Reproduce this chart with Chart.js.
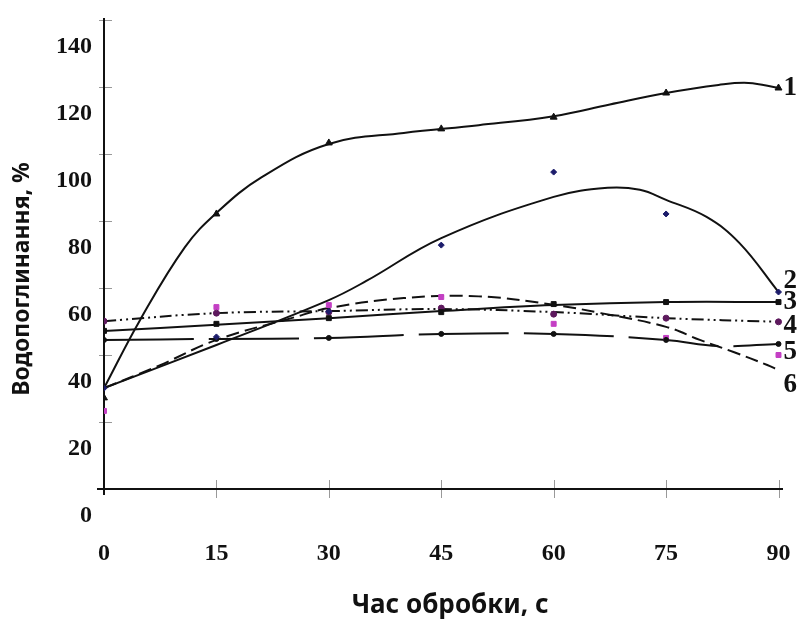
<!DOCTYPE html>
<html>
<head>
<meta charset="utf-8">
<script src="https://cdn.jsdelivr.net/npm/chart.js@4/dist/chart.umd.min.js"></script>
<style>
  html, body { margin: 0; padding: 0; background: #fff; }
</style>
</head>
<body>
<canvas id="chart" width="799" height="626"></canvas>
<script>
// tick values
const xTicks = [0, 15, 30, 45, 60, 75, 90];
const yTicks = [0, 20, 40, 60, 80, 100, 120, 140];

// measured points (markers), one value per time in xTicks
const times = [0, 15, 30, 45, 60, 75, 90];
const marks1 = [27.2, 82.1, 103.3, 107.5, 111.0, 118.2, 119.7];
const marks2 = [30.1, 45.4, 53.0, 72.8, 94.6, 82.1, 58.8];
const marks3 = [47.2, 49.3, 51.0, 52.8, 55.2, 55.8, 55.8];
const marks4 = [50.1, 52.5, 52.8, 54.0, 52.2, 51.0, 49.9];
const marks5 = [44.5, 44.8, 45.1, 46.3, 46.3, 44.5, 43.3];
const marks6 = [23.3, 54.3, 54.9, 57.3, 49.3, 45.1, 40.0];

// trend curves
const fit1X = [0, 4.8, 10.8, 15, 21, 30, 40, 50, 60, 67.5, 75, 82, 86, 90];
const fit1Y = [30.1, 50.4, 72.2, 82.4, 93.0, 103.0, 106.3, 108.6, 111.3, 114.8, 118.2, 120.6, 121.2, 119.7];
const fit2X = [0, 15, 30, 35, 45, 60, 67.2, 71.5, 75, 80.4, 84.8, 90];
const fit2Y = [30.1, 43.0, 56.4, 62.1, 74.9, 87.2, 89.9, 89.3, 86.3, 81.2, 73.4, 58.8];
const fit3X = [0, 15, 30, 45, 60, 75, 90];
const fit3Y = [47.2, 49.0, 51.0, 53.1, 54.9, 55.8, 55.8];
const fit4X = [0, 15, 30, 45, 60, 75, 90];
const fit4Y = [50.1, 52.5, 53.1, 53.7, 52.8, 51.0, 49.9];
const fit5X = [0, 15, 30, 45, 60, 75, 82, 90];
const fit5Y = [44.5, 44.8, 45.1, 46.3, 46.3, 44.5, 42.7, 43.3];
const fit6X = [0, 7.5, 15, 25, 30, 40, 50, 60, 66.3, 75, 79.5, 84, 88.5, 90];
const fit6Y = [30.1, 37.0, 44.5, 51.0, 54.0, 57.0, 57.5, 55.0, 52.5, 48.4, 44.5, 40.9, 37.0, 35.5];

// curve numbers at the right end
const curveNames = ['1', '2', '3', '4', '5', '6'];
const curveNameY = [119.7, 62.2, 55.7, 48.5, 40.9, 31.0];

const toPts = (xs, ys) => xs.map((x, i) => ({ x: x, y: ys[i] }));

function fitLine(xs, ys, dash) {
    return {
        data: toPts(xs, ys),
        showLine: true,
        borderColor: '#111',
        borderWidth: 2,
        borderDash: dash,
        pointRadius: 0,
        tension: 0.4,
        order: 2
    };
}

function markSet(ys, style, color, radius) {
    return {
        data: toPts(times, ys),
        showLine: false,
        pointStyle: style,
        pointRadius: radius,
        pointBackgroundColor: color,
        pointBorderColor: color,
        pointBorderWidth: 1,
        order: 1
    };
}

const datasets = [
    fitLine(fit1X, fit1Y, []),
    fitLine(fit2X, fit2Y, []),
    fitLine(fit3X, fit3Y, []),
    fitLine(fit4X, fit4Y, [12, 4, 2, 4, 2, 4]),
    fitLine(fit5X, fit5Y, [90, 15]),
    fitLine(fit6X, fit6Y, [13, 6]),
    markSet(marks1, 'triangle', '#111', 4),
    markSet(marks2, 'rectRot', '#1c1c6b', 3),
    markSet(marks3, 'rect', '#111', 3.5),
    markSet(marks4, 'circle', '#5e1a5e', 3),
    markSet(marks5, 'circle', '#111', 2.5),
    markSet(marks6, 'rect', '#c43fc4', 3.5)
];

// axes lines, tick marks, titles and curve numbers
const decor = {
    id: 'decor',
    beforeDatasetsDraw(chart) {
        const { ctx, chartArea: a, scales: { x, y } } = chart;
        ctx.save();
        ctx.strokeStyle = '#999';
        ctx.lineWidth = 1;
        yTicks.slice(1).forEach(v => {
            const py = Math.round(y.getPixelForValue(v)) + 0.5;
            ctx.beginPath(); ctx.moveTo(a.left - 5, py); ctx.lineTo(a.left + 8, py); ctx.stroke();
        });
        xTicks.slice(1).forEach(v => {
            const px = Math.round(x.getPixelForValue(v)) + 0.5;
            ctx.beginPath(); ctx.moveTo(px, a.bottom - 9); ctx.lineTo(px, a.bottom + 9); ctx.stroke();
        });
        ctx.strokeStyle = '#111';
        ctx.lineWidth = 2;
        ctx.beginPath();
        ctx.moveTo(a.left, a.top - 2); ctx.lineTo(a.left, a.bottom + 6);
        ctx.moveTo(a.left - 7, a.bottom); ctx.lineTo(a.right, a.bottom);
        ctx.stroke();
        ctx.restore();
    },
    afterDraw(chart) {
        const { ctx, scales: { x, y } } = chart;
        ctx.save();
        ctx.fillStyle = '#111';
        ctx.font = 'bold 27px "Liberation Serif"';
        ctx.textAlign = 'left';
        ctx.textBaseline = 'middle';
        curveNames.forEach((n, i) => {
            ctx.fillText(n, x.getPixelForValue(90) + 5, y.getPixelForValue(curveNameY[i]));
        });

        ctx.font = 'bold 26px "Noto Sans"';
        ctx.textAlign = 'center';
        ctx.fillText('Час обробки, с', 450, 606);

        ctx.translate(22, 279);
        ctx.rotate(-Math.PI / 2);
        ctx.font = 'bold 23px "Noto Sans"';
        ctx.fillText('Водопоглинання, %', 0, 0);
        ctx.restore();
    }
};

const tickFont = { family: 'Liberation Serif', size: 24, weight: 'bold' };

new Chart(document.getElementById('chart').getContext('2d'), {
    type: 'scatter',
    data: { datasets: datasets },
    options: {
        responsive: false,
        animation: false,
        layout: { padding: { top: 20, right: 16, left: 0, bottom: 0 } },
        plugins: { legend: { display: false }, tooltip: { enabled: false } },
        scales: {
            x: {
                type: 'linear',
                min: 0,
                max: 90.6,
                afterBuildTicks: s => { s.ticks = xTicks.map(v => ({ value: v })); },
                afterFit: s => { s.height = 137; s.paddingLeft = 0; s.paddingRight = 0; },
                grid: { display: false, drawTicks: false },
                border: { display: false },
                ticks: { padding: 50, color: '#111', font: tickFont, maxRotation: 0, autoSkip: false }
            },
            y: {
                type: 'linear',
                min: 0,
                max: 140,
                afterBuildTicks: s => { s.ticks = yTicks.map(v => ({ value: v })); },
                afterFit: s => { s.width = 104; s.paddingTop = 0; s.paddingBottom = 0; },
                grid: { display: false, drawTicks: false },
                border: { display: false },
                ticks: { padding: 12, labelOffset: 27, color: '#111', font: tickFont }
            }
        }
    },
    plugins: [decor]
});
</script>
</body>
</html>
